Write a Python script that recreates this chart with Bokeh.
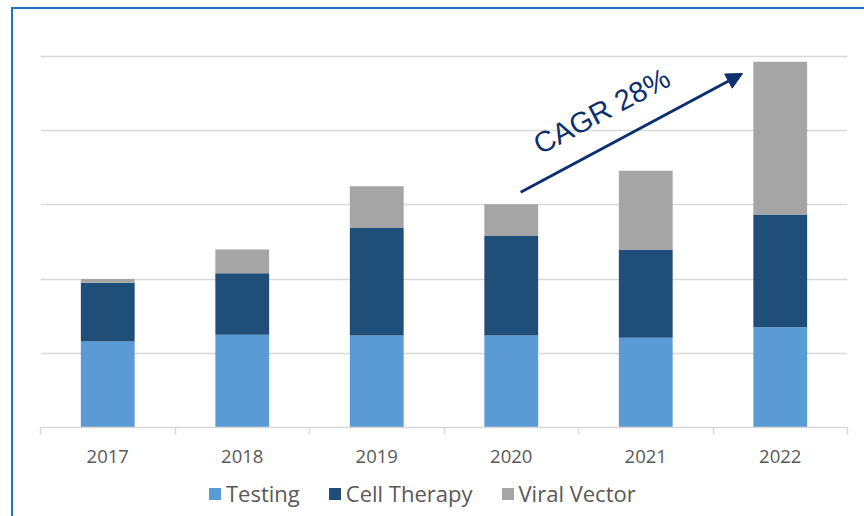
from bokeh.plotting import figure
from bokeh.layouts import column
from bokeh.models import (ColumnDataSource, FixedTicker, Legend, LegendItem, Range1d,
                          Arrow, NormalHead, Label)
from bokeh.embed import file_html
from bokeh.resources import INLINE

# ---- data ----
years = ["2017", "2018", "2019", "2020", "2021", "2022"]
testing = [1.16, 1.25, 1.24, 1.24, 1.21, 1.35]
cell_therapy = [0.79, 0.83, 1.45, 1.34, 1.19, 1.52]
viral_vector = [0.05, 0.32, 0.56, 0.43, 1.06, 2.06]
series_names = ["Testing", "Cell Therapy", "Viral Vector"]
grid_ticks = [0, 1, 2, 3, 4, 5]
cagr_text = "CAGR 28%"
arrow_start = (3.57, 3.17)
arrow_end = (5.22, 4.77)
cagr_pos = (3.68, 3.79)

# ---- styles ----
colors = ["#5b9bd5", "#1f4e79", "#a5a5a5"]
navy = "#0e2f6e"
grid_color = "#d9d9d9"
text_gray = "#595959"
frame_blue = "#2370c4"

x = [i + 0.5 for i in range(len(years))]
source = ColumnDataSource(dict(x=x, testing=testing, cell=cell_therapy, viral=viral_vector))
stack_fields = ["testing", "cell", "viral"]

p = figure(width=864, height=476, x_range=Range1d(0, len(years)), y_range=Range1d(0, 5.35),
           output_backend="svg", toolbar_location=None,
           min_border_left=40, min_border_right=17, min_border_top=30, min_border_bottom=49)
p.outline_line_color = None
p.border_fill_color = None
p.yaxis.visible = False
p.xgrid.visible = False
p.ygrid.ticker = FixedTicker(ticks=grid_ticks)
p.ygrid.grid_line_color = grid_color
p.ygrid.grid_line_width = 1.5

p.vbar_stack(stack_fields, x="x", width=0.4, source=source, color=colors, line_color=None)

xa = p.xaxis[0]
xa.ticker = FixedTicker(ticks=x, minor_ticks=list(range(len(years) + 1)))
xa.major_label_overrides = {xi: y for xi, y in zip(x, years)}
xa.axis_line_color = grid_color
xa.axis_line_width = 1.5
xa.major_tick_line_color = None
xa.major_tick_out = 0
xa.major_tick_in = 0
xa.minor_tick_out = 7
xa.minor_tick_in = 0
xa.minor_tick_line_color = grid_color
xa.minor_tick_line_width = 1.5
xa.major_label_text_font = "Open Sans"
xa.major_label_text_font_size = "18.5px"
xa.major_label_text_color = text_gray
xa.major_label_standoff = 15

p.add_layout(Arrow(end=NormalHead(size=16, fill_color=navy, line_color=navy),
                   x_start=arrow_start[0], y_start=arrow_start[1],
                   x_end=arrow_end[0], y_end=arrow_end[1],
                   line_color=navy, line_width=3))
p.add_layout(Label(x=cagr_pos[0], y=cagr_pos[1], text=cagr_text, angle=28, angle_units="deg",
                   text_font="Liberation Sans", text_font_size="29px", text_color=navy,
                   text_baseline="alphabetic", text_align="left"))

# legend strip below the chart (its own renderers are hidden; only the legend shows)
q = figure(width=864, height=40, x_range=Range1d(0, len(years)), y_range=Range1d(-2, -1),
           output_backend="svg", toolbar_location=None, min_border=0)
q.axis.visible = False
q.grid.visible = False
q.outline_line_color = None
q.border_fill_color = None
q.background_fill_color = None
legend_renderers = q.vbar_stack(stack_fields, x="x", width=0.4, source=source,
                                color=colors, line_color=None)
for r in legend_renderers:
    r.visible = False
legend = Legend(items=[LegendItem(label=n, renderers=[r]) for n, r in zip(series_names, legend_renderers)],
                orientation="horizontal", location=(167, 8), border_line_color=None,
                background_fill_alpha=0, glyph_width=15, glyph_height=15, label_standoff=4,
                spacing=27, label_text_font="Open Sans", label_text_font_size="22px",
                label_text_color=text_gray, padding=0, margin=0, inactive_fill_alpha=0)
q.add_layout(legend, "center")

layout = column(p, q, spacing=0)
layout.styles = {"box-shadow": f"inset 11px 7px 0 0 #ffffff, inset 13px 9px 0 0 {frame_blue}",
                 "background-color": "#ffffff"}

open("out.html", "w").write(file_html(layout, INLINE))
